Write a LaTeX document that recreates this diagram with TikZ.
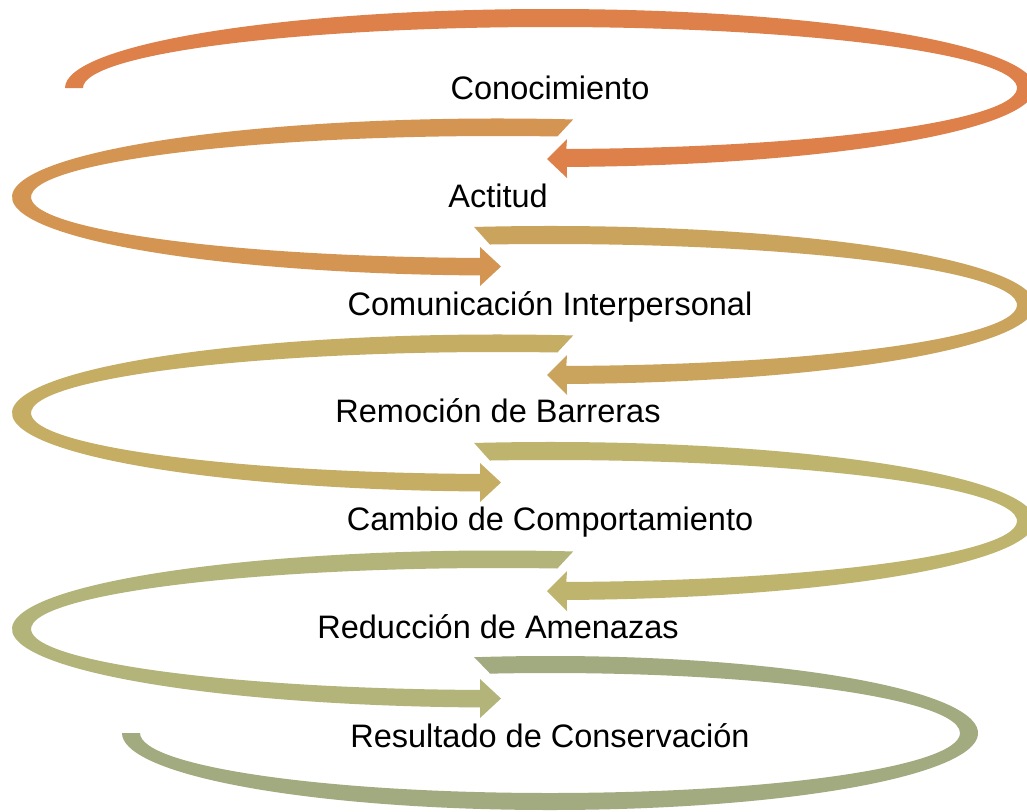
\documentclass[tikz,border=0pt]{standalone}
\usepackage{fontspec}
\setmainfont{Liberation Sans}
\definecolor{cA}{HTML}{DE804A}
\definecolor{cB}{HTML}{D49452}
\definecolor{cC}{HTML}{CAA45C}
\definecolor{cD}{HTML}{C6AD64}
\definecolor{cE}{HTML}{BEB46E}
\definecolor{cF}{HTML}{B2B47A}
\definecolor{cG}{HTML}{A2AA80}
\tikzset{
  lbl/.style={anchor=base, inner sep=0pt, font=\fontsize{32.5}{39}\selectfont, text=black},
}
% right loop: centre at (550,-#2)
\newcommand\rloop[2]{%
  \begin{scope}[shift={(550,-#2)}]
    \fill[#1] (99:485 and 79) arc[start angle=99, end angle=-88, x radius=485, y radius=79]
      -- (17,-90) -- (-3,-70) -- (17,-50) -- (-88:467 and 61)
      arc[start angle=-88, end angle=97.4, x radius=467, y radius=61] -- cycle;
  \end{scope}}
% left loop: centre at (498,-#2)
\newcommand\lloop[2]{%
  \begin{scope}[shift={(498,-#2)}]
    \fill[#1] (81.1:486 and 78.5) arc[start angle=81.1, end angle=267.9, x radius=486, y radius=78.5]
      -- (-18,-89) -- (3,-69.5) -- (-18,-50) -- (267.8:467 and 61)
      arc[start angle=267.8, end angle=82.7, x radius=467, y radius=61] -- cycle;
  \end{scope}}
\begin{document}
\begin{tikzpicture}[x=1pt,y=1pt]
\useasboundingbox (0,0) rectangle (1027,-811);
\clip (0,0) rectangle (1027,-811);
\fill[white] (0,0) rectangle (1027,-811);
% arrow 1
\begin{scope}[shift={(550,-88)}]
  \fill[cA] (180:485 and 79) arc[start angle=180, end angle=-88, x radius=485, y radius=79]
    -- (17,-90) -- (-3,-71) -- (17,-51) -- (-88:467 and 61)
    arc[start angle=-88, end angle=180, x radius=467, y radius=61] -- cycle;
\end{scope}
\lloop{cB}{197}
\rloop{cC}{305}
\lloop{cD}{413}
\rloop{cE}{521}
\lloop{cF}{629}
% arrow 7
\begin{scope}[shift={(550,-733)}]
  \fill[cG] (100.2:428 and 77) arc[start angle=100.2, end angle=-180, x radius=428, y radius=77]
    -- (-180:410 and 60)
    arc[start angle=-180, end angle=98.4, x radius=410, y radius=60] -- cycle;
\end{scope}
\node[lbl] (t1) at (550,-99) {Conocimiento};
\node[lbl] (t2) at (498,-207) {Actitud};
\node[lbl] (t3) at (550,-315) {Comunicación Interpersonal};
\node[lbl] (t4) at (498,-422) {Remoción de Barreras};
\node[lbl] (t5) at (550,-530) {Cambio de Comportamiento};
\node[lbl] (t6) at (498,-638) {Reducción de Amenazas};
\node[lbl] (t7) at (550,-747) {Resultado de Conservación};
\end{tikzpicture}
\end{document}
